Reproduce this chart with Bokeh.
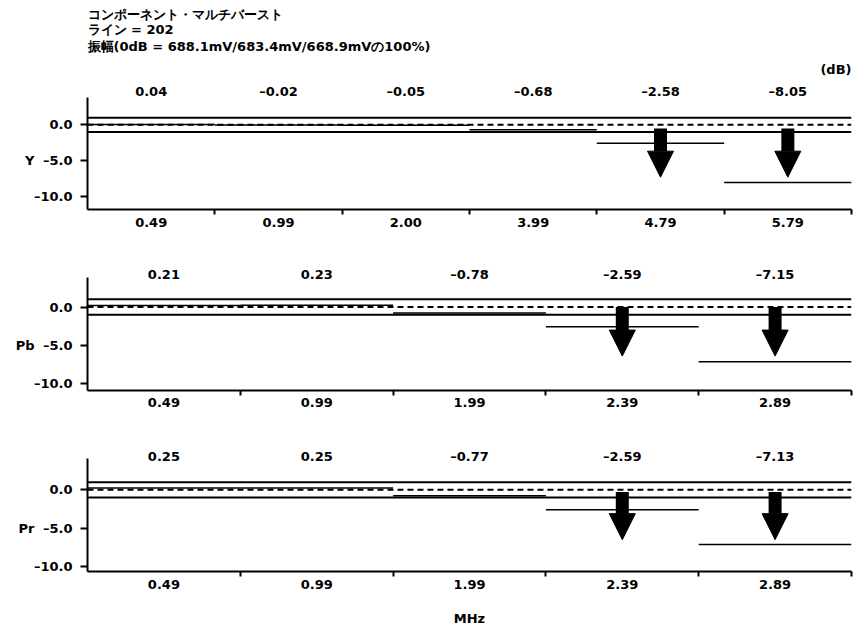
from bokeh.plotting import figure
from bokeh.models import (Range1d, FixedTicker, LinearAxis, Title, Arrow,
                          NormalHead, Span)
from bokeh.layouts import column
from bokeh.embed import file_html
from bokeh.resources import INLINE

FONT = "DejaVu Sans"
FS = "13px"

# ---------------- data ----------------
title_lines = ["コンポーネント・マルチバースト",
               "ライン = 202",
               "振幅(0dB = 688.1mV/683.4mV/668.9mVの100%)"]
unit_label = "(dB)"
x_title = "MHz"

y_freqs = ["0.49", "0.99", "2.00", "3.99", "4.79", "5.79"]
y_vals = [0.04, -0.02, -0.05, -0.68, -2.58, -8.05]

c_freqs = ["0.49", "0.99", "1.99", "2.39", "2.89"]
pb_vals = [0.21, 0.23, -0.78, -2.59, -7.15]
pr_vals = [0.25, 0.25, -0.77, -2.59, -7.13]

upper_limit = 1.0
lower_limit = -1.0
y_ticks = [0, -5, -10]
y_tick_labels = ["0.0", "–5.0", "–10.0"]
name_tick = -5


def fmt(v):
    return f"{v:.2f}".replace("-", "–")


def style_text(obj, prefix):
    setattr(obj, prefix + "_font", FONT)
    setattr(obj, prefix + "_font_style", "bold")
    setattr(obj, prefix + "_font_size", FS)
    setattr(obj, prefix + "_color", "black")


def make_panel(name, freqs, vals, yr, arrow_top, arrow_tip,
               height, frame_h, border_top, border_bottom, label_standoff,
               top_standoff, titles=None, xlabel=None):
    n = len(vals)
    p = figure(frame_width=764, frame_height=frame_h, height=height,
               x_range=Range1d(0, n), y_range=Range1d(*yr),
               output_backend="svg", toolbar_location=None,
               min_border_left=87, min_border_right=5,
               min_border_top=border_top, min_border_bottom=border_bottom)
    p.outline_line_color = None
    p.xgrid.visible = False
    p.ygrid.visible = False
    p.background_fill_color = "white"
    p.border_fill_color = "white"

    centers = [i + 0.5 for i in range(n)]
    bounds = [i for i in range(1, n + 1)]

    # bottom axis: labels at band centres, tick marks at band edges
    xa = p.xaxis[0]
    xa.ticker = FixedTicker(ticks=centers, minor_ticks=bounds)
    xa.major_label_overrides = {c: f for c, f in zip(centers, freqs)}
    xa.axis_line_width = 2
    xa.major_tick_out = 0
    xa.major_tick_in = 0
    xa.minor_tick_out = 5
    xa.minor_tick_in = 0
    xa.minor_tick_line_width = 2
    xa.major_label_standoff = label_standoff
    style_text(xa, "major_label_text")
    if xlabel:
        xa.axis_label = xlabel
        style_text(xa, "axis_label_text")
        xa.axis_label_standoff = 19

    # top axis with the measured values
    ta = LinearAxis(ticker=FixedTicker(ticks=centers),
                    major_label_overrides={c: fmt(v) for c, v in zip(centers, vals)})
    ta.axis_line_color = None
    ta.major_tick_line_color = None
    ta.minor_tick_line_color = None
    ta.major_tick_out = 0
    ta.major_tick_in = 0
    ta.minor_tick_out = 0
    ta.minor_tick_in = 0
    ta.major_label_standoff = top_standoff
    style_text(ta, "major_label_text")
    p.add_layout(ta, "above")

    # y axis (dB)
    ya = p.yaxis[0]
    ya.ticker = FixedTicker(ticks=y_ticks)
    ya.major_label_overrides = {t: s for t, s in zip(y_ticks, y_tick_labels)}
    ya.axis_line_width = 2
    ya.major_tick_out = 7
    ya.major_tick_in = 0
    ya.major_tick_line_width = 2
    ya.minor_tick_line_color = None
    ya.major_label_standoff = 8
    style_text(ya, "major_label_text")

    # component name, as a label-only axis left of the dB axis
    na = LinearAxis(ticker=FixedTicker(ticks=[name_tick]),
                    major_label_overrides={name_tick: name})
    na.axis_line_color = None
    na.major_tick_line_color = None
    na.minor_tick_line_color = None
    na.major_tick_out = 0
    na.major_tick_in = 0
    na.minor_tick_out = 0
    na.minor_tick_in = 0
    na.major_label_standoff = -4
    style_text(na, "major_label_text")
    p.add_layout(na, "left")

    # limit lines and 0 dB reference
    p.add_layout(Span(location=upper_limit, dimension="width",
                      line_color="black", line_width=2))
    p.add_layout(Span(location=lower_limit, dimension="width",
                      line_color="black", line_width=2))
    p.add_layout(Span(location=0, dimension="width", line_color="black",
                      line_width=2, line_dash="6 4"))

    # measured level in each band
    p.segment(x0=[i for i in range(n)], x1=[i + 1 for i in range(n)],
              y0=vals, y1=vals, line_color="black", line_width=1.5)

    # arrows for bands below the lower limit
    for i, v in enumerate(vals):
        if v < lower_limit:
            p.add_layout(Arrow(x_start=i + 0.5, x_end=i + 0.5,
                               y_start=arrow_top, y_end=arrow_tip,
                               line_width=13, line_color="black",
                               end=NormalHead(size=26, fill_color="black",
                                              line_color="black", line_width=1)))

    if titles:
        for t in titles:
            p.add_layout(t, "above")
    return p


# titles listed from the plot outward
hdr_specs = [(unit_label, "right", 7), (title_lines[2], "left", 5),
             (title_lines[1], "left", -4), (title_lines[0], "left", 0)]
hdr = []
for txt, al, so in hdr_specs:
    t = Title(text=txt, align=al, standoff=so, offset=0)
    style_text(t, "text")
    hdr.append(t)

pY = make_panel("Y", y_freqs, y_vals, (-11.81, 3.81), -0.5, -7.3,
                253, 112, 97, 44, 3, -1, titles=hdr)
pPb = make_panel("Pb", c_freqs, pb_vals, (-10.89, 3.85), 0.0, -6.4,
                 181, 113, 24, 44, 2, -4)
pPr = make_panel("Pr", c_freqs, pr_vals, (-10.65, 4.08), -0.3, -6.5,
                 195, 113, 24, 58, 3, -5, xlabel=x_title)

layout = column(pY, pPb, pPr, spacing=0)
open("out.html", "w").write(file_html(layout, INLINE))
